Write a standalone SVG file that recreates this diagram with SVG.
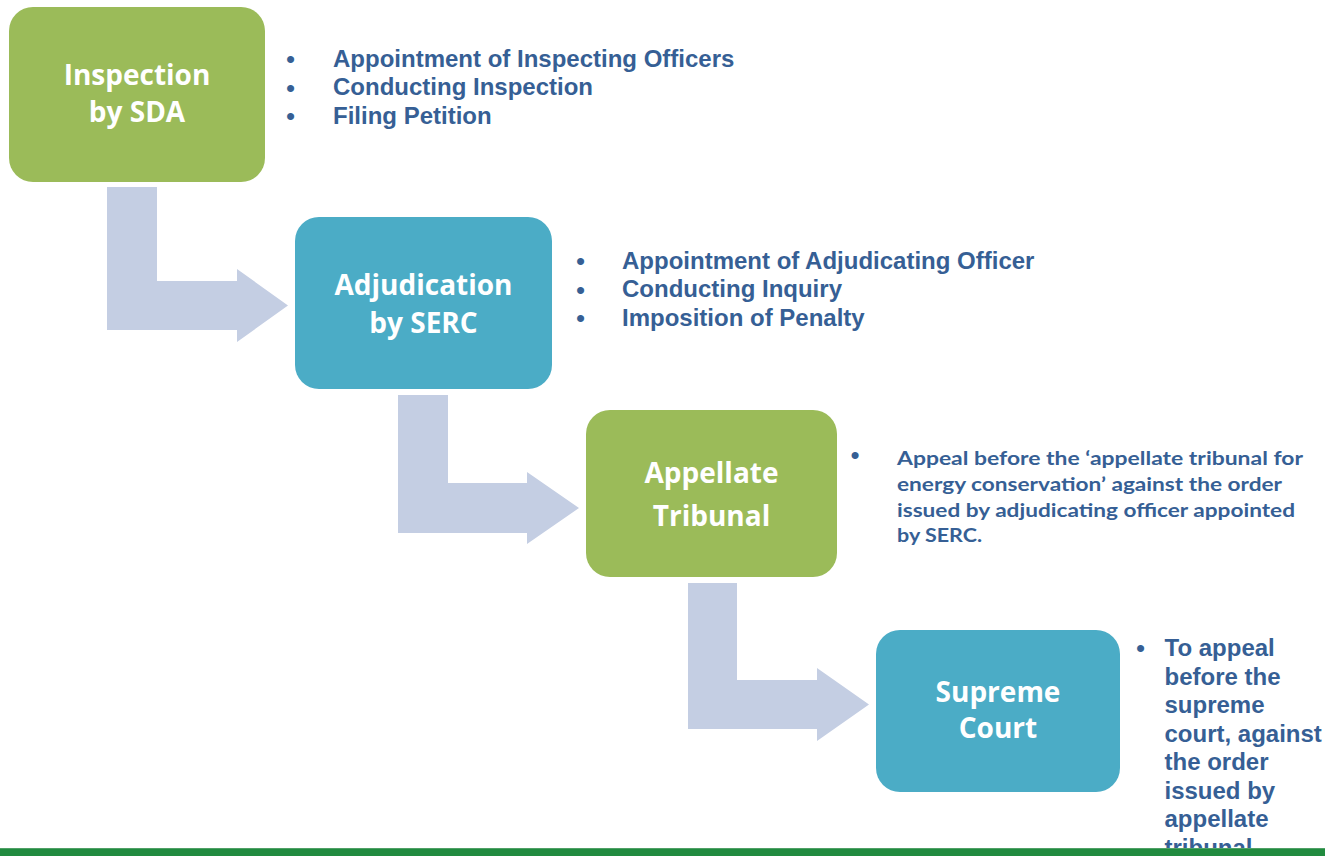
<svg xmlns="http://www.w3.org/2000/svg" width="1325" height="856" viewBox="0 0 1325 856">
<style>
.green{fill:#9BBB59}
.teal{fill:#4BACC6}
.arrow{fill:#C4CEE3}
.ntext{font-family:"Open Sans","Liberation Sans",sans-serif;font-weight:700;font-size:28px;fill:#FFFFFF;text-anchor:middle}
.list{font-family:"Liberation Sans",Arial,sans-serif;font-weight:700;font-size:24px;fill:#365F95}
.cal{font-family:Lato,"Liberation Sans",sans-serif;font-weight:700;font-size:19.5px;fill:#365F95}
.bul{font-family:"Liberation Sans",Arial,sans-serif;font-weight:400;font-size:26px;fill:#365F95;text-anchor:middle}
</style>
<rect width="1325" height="856" fill="#FFFFFF"/>
<g id="connectors">
<polygon class="arrow" points="107,187 157,187 157,281 237,281 237,269 288,305.5 237,342 237,330 107,330"/>
<polygon class="arrow" points="398,395 448,395 448,483 527,483 527,472 579,508 527,544 527,533 398,533"/>
<polygon class="arrow" points="688,583 737,583 737,680 817,680 817,668 869,704.5 817,741 817,729 688,729"/>
</g>
<g id="node-inspection">
<rect class="green" x="9" y="7" width="256" height="175" rx="24"/>
<text class="ntext" x="137" y="85">Inspection</text>
<text class="ntext" x="137" y="122">by SDA</text>
</g>
<g id="node-adjudication">
<rect class="teal" x="295" y="217" width="257" height="172" rx="24"/>
<text class="ntext" x="423.5" y="295">Adjudication</text>
<text class="ntext" x="423.5" y="333">by SERC</text>
</g>
<g id="node-appellate">
<rect class="green" x="586" y="410" width="251" height="167" rx="24"/>
<text class="ntext" x="711.5" y="483">Appellate</text>
<text class="ntext" x="711.5" y="526">Tribunal</text>
</g>
<g id="node-supreme">
<rect class="teal" x="876" y="630" width="244" height="162" rx="24"/>
<text class="ntext" x="998" y="702">Supreme</text>
<text class="ntext" x="998" y="738">Court</text>
</g>
<g id="notes-inspection">
<text class="bul" x="290.5" y="67.5">•</text><text class="list" x="333" y="66.5">Appointment of Inspecting Officers</text>
<text class="bul" x="290.5" y="96.5">•</text><text class="list" x="333" y="95.3">Conducting Inspection</text>
<text class="bul" x="290.5" y="125">•</text><text class="list" x="333" y="124">Filing Petition</text>
</g>
<g id="notes-adjudication">
<text class="bul" x="580.5" y="269.5">•</text><text class="list" x="622" y="268.5">Appointment of Adjudicating Officer</text>
<text class="bul" x="580.5" y="298.5">•</text><text class="list" x="622" y="297.3">Conducting Inquiry</text>
<text class="bul" x="580.5" y="327">•</text><text class="list" x="622" y="326">Imposition of Penalty</text>
</g>
<g id="notes-appellate">
<text class="bul" x="855" y="463.5">•</text>
<text class="cal" x="897" y="465" textLength="406" lengthAdjust="spacingAndGlyphs">Appeal before the ‘appellate tribunal for</text>
<text class="cal" x="897" y="490.7" textLength="385" lengthAdjust="spacingAndGlyphs">energy conservation’ against the order</text>
<text class="cal" x="897" y="516.7" textLength="398" lengthAdjust="spacingAndGlyphs">issued by adjudicating officer appointed</text>
<text class="cal" x="897" y="541.7" textLength="85" lengthAdjust="spacingAndGlyphs">by SERC.</text>
</g>
<g id="notes-supreme">
<text class="bul" x="1140.5" y="656.5">•</text>
<text class="list" x="1164.5" y="656">To appeal</text>
<text class="list" x="1164.5" y="684.5">before the</text>
<text class="list" x="1164.5" y="713">supreme</text>
<text class="list" x="1164.5" y="741.5">court, against</text>
<text class="list" x="1164.5" y="770">the order</text>
<text class="list" x="1164.5" y="798.5">issued by</text>
<text class="list" x="1164.5" y="827">appellate</text>
<text class="list" x="1164.5" y="855.5">tribunal.</text>
</g>
<rect x="0" y="848" width="1325" height="8" fill="#218B3F"/>
<rect x="0" y="848" width="1325" height="1" fill="#4FA066"/>
</svg>
